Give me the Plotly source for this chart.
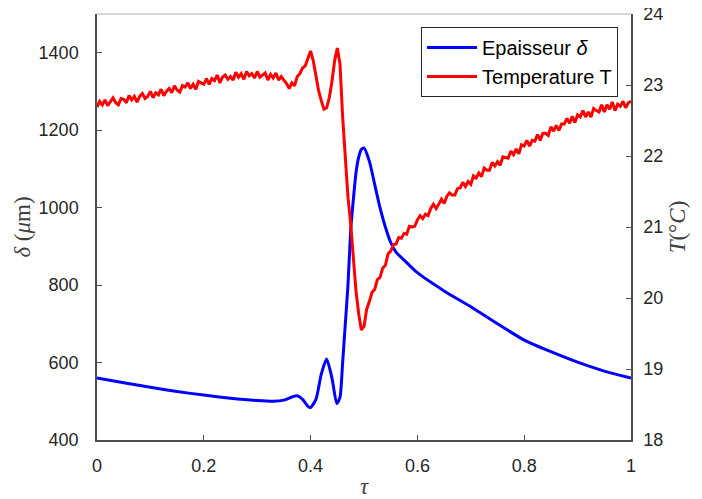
import plotly.graph_objects as go

# ---------------- data ----------------
tau_delta = [0, 0.05, 0.1, 0.15, 0.2, 0.25, 0.3, 0.33, 0.35, 0.365, 0.375, 0.385, 0.395,
             0.40, 0.41, 0.42, 0.43, 0.44, 0.449, 0.455, 0.46, 0.465, 0.47, 0.475, 0.48,
             0.485, 0.49, 0.495, 0.5, 0.51, 0.52, 0.53, 0.54, 0.55, 0.56, 0.58, 0.6,
             0.65, 0.7, 0.75, 0.8, 0.85, 0.9, 0.95, 1.0]
delta = [560, 548, 536, 525, 516, 508, 502, 500, 503, 511, 514, 505, 487,
         484, 505, 570, 609, 560, 494, 510, 600, 700, 800, 940, 1020,
         1090, 1130, 1150, 1154, 1120, 1060, 1000, 950, 910, 885, 858, 832,
         785, 744, 700, 658, 628, 601, 578, 560]

tau_T = [i / 200 for i in range(201)]
temperature = [
    22.69, 22.77, 22.72, 22.79, 22.71, 22.77, 22.82, 22.75, 22.72, 22.81,
    22.80, 22.75, 22.85, 22.79, 22.84, 22.76, 22.84, 22.88, 22.81, 22.84,
    22.91, 22.82, 22.89, 22.86, 22.94, 22.85, 22.91, 22.95, 22.89, 22.99,
    22.93, 22.90, 22.99, 22.97, 23.03, 22.95, 23.01, 22.94, 23.05, 23.03,
    23.01, 23.09, 23.01, 23.09, 23.06, 23.14, 23.03, 23.11, 23.14, 23.08,
    23.12, 23.07, 23.18, 23.11, 23.16, 23.08, 23.19, 23.13, 23.16, 23.10,
    23.19, 23.11, 23.14, 23.17, 23.07, 23.15, 23.10, 23.17, 23.07, 23.12,
    23.07, 23.02, 22.95, 23.03, 22.99, 23.12, 23.16, 23.24, 23.27, 23.38,
    23.48, 23.34, 23.10, 22.92, 22.78, 22.66, 22.68, 22.82, 23.05, 23.34,
    23.52, 23.30, 22.55, 21.90, 21.42, 21.05, 20.55, 20.10, 19.78, 19.55,
    19.60, 19.84, 19.95, 20.08, 20.12, 20.26, 20.29, 20.42, 20.46, 20.62,
    20.66, 20.75, 20.76, 20.85, 20.84, 20.91, 20.90, 21.01, 21.00, 21.01,
    21.10, 21.16, 21.12, 21.18, 21.16, 21.26, 21.32, 21.26, 21.32, 21.39,
    21.33, 21.43, 21.48, 21.45, 21.45, 21.54, 21.55, 21.63, 21.57, 21.64,
    21.60, 21.72, 21.69, 21.76, 21.71, 21.83, 21.80, 21.80, 21.91, 21.86,
    21.92, 21.87, 21.99, 21.98, 21.97, 22.07, 22.02, 22.10, 22.03, 22.16,
    22.14, 22.22, 22.14, 22.22, 22.21, 22.30, 22.22, 22.32, 22.32, 22.29,
    22.41, 22.35, 22.43, 22.36, 22.45, 22.45, 22.53, 22.46, 22.56, 22.47,
    22.58, 22.55, 22.64, 22.55, 22.62, 22.55, 22.67, 22.64, 22.62, 22.72,
    22.62, 22.72, 22.66, 22.76, 22.64, 22.73, 22.70, 22.77, 22.68, 22.75,
    22.77,
]

x_ticks = [0, 0.2, 0.4, 0.6, 0.8, 1]
x_ticklabels = ["0", "0.2", "0.4", "0.6", "0.8", "1"]
delta_ticks = [400, 600, 800, 1000, 1200, 1400]
T_ticks = [18, 19, 20, 21, 22, 23, 24]

# ---------------- figure ----------------
TICKFONT = dict(family="Liberation Sans, Arial, sans-serif", size=18, color="#262626")
TITLEFONT = dict(family="Liberation Serif, Times New Roman, serif", size=23, color="#404040")
AXC = "#4d4d4d"

fig = go.Figure()
fig.add_trace(go.Scatter(
    x=tau_delta, y=delta, mode="lines", name="Epaisseur <i>δ</i>",
    line=dict(color="#0000ff", width=3, shape="spline", smoothing=0.6),
    yaxis="y",
))
fig.add_trace(go.Scatter(
    x=tau_T, y=temperature, mode="lines", name="Temperature T",
    line=dict(color="#ff0000", width=3),
    yaxis="y2",
))

fig.update_layout(
    width=694, height=491,
    margin=dict(l=89, r=71, t=6, b=59),
    paper_bgcolor="white", plot_bgcolor="white",
    showlegend=True,
    legend=dict(
        x=0.9757, y=0.9695, xanchor="right", yanchor="top",
        bgcolor="white", bordercolor="#262626", borderwidth=1,
        font=dict(family="Liberation Sans, Arial, sans-serif", size=20, color="#000000"),
        itemwidth=50, tracegroupgap=0,
    ),
    xaxis=dict(
        range=[0, 1], tickvals=x_ticks, ticktext=x_ticklabels,
        ticks="inside", ticklen=5, tickcolor=AXC, tickwidth=1,
        showline=True, linecolor=AXC, linewidth=1.5,
        showgrid=False, zeroline=False, automargin=False,
        tickfont=TICKFONT, ticklabelstandoff=9, ticklabeloverflow="allow",
        title=dict(text="<i>τ</i>", font=TITLEFONT, standoff=12),
    ),
    yaxis=dict(
        range=[400, 1500], tickvals=delta_ticks,
        ticks="inside", ticklen=5, tickcolor=AXC, tickwidth=1,
        showline=True, linecolor=AXC, linewidth=1.5,
        showgrid=False, zeroline=False, automargin=False,
        tickfont=TICKFONT, ticklabelstandoff=13, ticklabeloverflow="allow",
        title=dict(text="<i>δ</i> (<i>μ</i>m)", font=TITLEFONT, standoff=2),
    ),
    yaxis2=dict(
        range=[18, 24], tickvals=T_ticks, overlaying="y", side="right",
        ticks="inside", ticklen=5, tickcolor=AXC, tickwidth=1,
        showline=True, linecolor=AXC, linewidth=1.5,
        showgrid=False, zeroline=False, automargin=False,
        tickfont=TICKFONT, ticklabelstandoff=7, ticklabeloverflow="allow",
        title=dict(text="<i>T</i>(°<i>C</i>)", font=TITLEFONT, standoff=7),
    ),
    shapes=[dict(type="line", xref="paper", yref="paper", x0=0, x1=1, y0=1, y1=1,
                 line=dict(color="#b0b0b0", width=1))],
)

fig.write_html("out.html")
